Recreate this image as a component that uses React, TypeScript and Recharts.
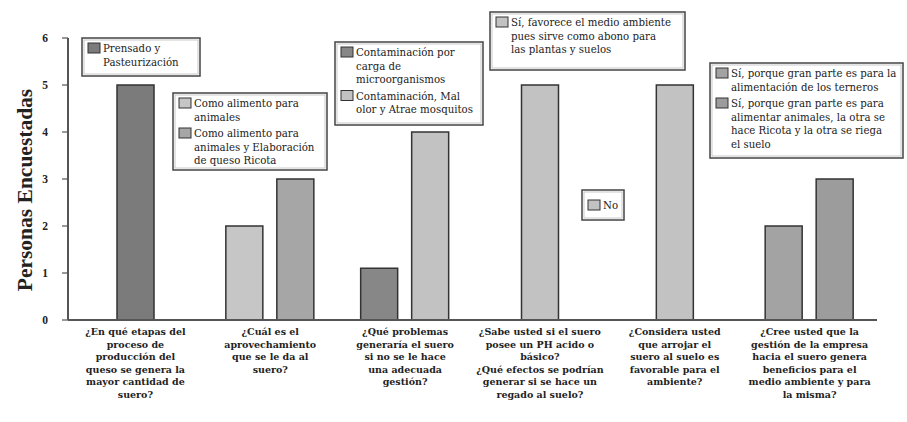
import React from "react";
import { BarChart, Bar, XAxis, YAxis, Cell } from "recharts";

// Survey questions (x-axis categories), one entry per line of the label
const questions: string[][] = [
  ["¿En qué etapas del", "proceso de", "producción del", "queso se genera la", "mayor cantidad de", "suero?"],
  ["¿Cuál es el", "aprovechamiento", "que se le da al", "suero?"],
  ["¿Qué problemas", "generaría el suero", "si no se le hace", "una adecuada", "gestión?"],
  ["¿Sabe usted si el suero", "posee un PH acido o", "básico?", "¿Qué efectos se podrían", "generar si se hace un", "regado al suelo?"],
  ["¿Considera usted", "que arrojar el", "suero al suelo es", "favorable para el", "ambiente?"],
  ["¿Cree usted que la", "gestión de la empresa", "hacia el suero genera", "beneficios para el", "medio ambiente y para", "la misma?"],
];
const categoryIds = ["P1", "P2", "P3", "P4", "P5", "P6"];

// Respondents per answer: questions with one answer use `singleValues`,
// questions with two answers use `firstValues` / `secondValues`
const singleValues: (number | null)[] = [5, null, null, 5, 5, null];
const firstValues: (number | null)[] = [null, 2, 1.1, null, null, 2];
const secondValues: (number | null)[] = [null, 3, 4, null, null, 3];

const yTicks = [0, 1, 2, 3, 4, 5, 6];

// Answer texts per question, split into legend lines
const answerLines: string[][][] = [
  [["Prensado y", "Pasteurización"]],
  [
    ["Como alimento para", "animales"],
    ["Como alimento para", "animales y Elaboración", "de queso Ricota"],
  ],
  [
    ["Contaminación por", "carga de", "microorganismos"],
    ["Contaminación, Mal", "olor y Atrae mosquitos"],
  ],
  [["Sí, favorece el medio ambiente", "pues sirve como abono para", "las plantas y suelos"]],
  [["No"]],
  [
    ["Sí, porque gran parte es para la", "alimentación de los terneros"],
    ["Sí, porque gran parte es para", "alimentar animales, la otra se", "hace Ricota y la otra se riega", "el suelo"],
  ],
];

// Fill for each answer, same order as answerLines
const answerColors: string[][] = [
  ["#7b7b7b"],
  ["#c6c6c6", "#a6a6a6"],
  ["#878787", "#c2c2c2"],
  ["#c2c2c2"],
  ["#c2c2c2"],
  ["#a3a3a3", "#9c9c9c"],
];

// Legend box placement inside the plot
const legendBoxes = [
  { x: 82, y: 38, w: 118, h: 38 },
  { x: 173, y: 93, w: 154, h: 77 },
  { x: 335, y: 42, w: 148, h: 83 },
  { x: 490, y: 12, w: 195, h: 58 },
  { x: 582, y: 190, w: 42, h: 30 },
  { x: 710, y: 63, w: 193, h: 95 },
];

const SERIF = "'Liberation Serif', 'DejaVu Serif', serif";
const WIDE_SERIF = "'DejaVu Serif', serif";
const W = 907;
const H = 422;

const rows = categoryIds.map((id, i) => ({
  id,
  single: singleValues[i],
  first: firstValues[i],
  second: secondValues[i],
}));

const QuestionTick = (props: any) => {
  const { x, y, index } = props;
  const lines = questions[index] || [];
  return (
    <text
      x={x}
      y={y}
      textAnchor="middle"
      style={{ fontFamily: WIDE_SERIF }}
      fontSize={9.5}
      fontWeight="bold"
      fill="#222"
    >
      {lines.map((l, k) => (
        <tspan key={k} x={x} y={y + 15 + k * 12.6}>
          {l}
        </tspan>
      ))}
    </text>
  );
};

const LINE_H = 13.5;

const AnswerLegend = ({ qi }: { qi: number }) => {
  const box = legendBoxes[qi];
  const items = answerLines[qi];
  const single = items.length === 1 && items[0].length === 1;
  let base = single ? box.y + box.h / 2 + 4 : box.y + 14;
  const out: React.ReactNode[] = [];
  items.forEach((lines, ai) => {
    out.push(
      <rect
        key={`s${ai}`}
        x={box.x + 6}
        y={base - 9}
        width={12}
        height={10}
        fill={answerColors[qi][ai]}
        stroke="#333"
        strokeWidth={1}
      />
    );
    out.push(
      <text key={`t${ai}`} style={{ fontFamily: WIDE_SERIF }} fontSize={10.2} fill="#222">
        {lines.map((l, k) => (
          <tspan key={k} x={box.x + 21} y={base + k * LINE_H}>
            {l}
          </tspan>
        ))}
      </text>
    );
    base += lines.length * LINE_H + 3;
  });
  return (
    <g>
      <rect x={box.x} y={box.y} width={box.w} height={box.h} fill="#fff" stroke="#444" strokeWidth={1.5} />
      <rect x={box.x + 2} y={box.y + 2} width={box.w - 4} height={box.h - 4} fill="none" stroke="#bbb" strokeWidth={0.8} />
      {out}
    </g>
  );
};

export default function App() {
  return (
    <div style={{ position: "absolute", left: 0, top: 0, width: W, height: H, background: "#fff" }}>
      <BarChart
        width={W}
        height={H}
        data={rows}
        margin={{ top: 38, right: 30, bottom: 0, left: 0 }}
        barSize={37}
        barGap={14}
      >
        <XAxis
          xAxisId="pair"
          dataKey="id"
          height={102}
          interval={0}
          tickLine={false}
          tickSize={0}
          tickMargin={0}
          axisLine={{ stroke: "#555", strokeWidth: 2 }}
          tick={<QuestionTick />}
        />
        <XAxis xAxisId="single" dataKey="id" hide />
        <YAxis
          domain={[0, 6]}
          ticks={yTicks}
          width={68}
          tickSize={6}
          tickMargin={14}
          axisLine={{ stroke: "#555", strokeWidth: 2 }}
          tickLine={{ stroke: "#555", strokeWidth: 1.2 }}
          tick={{ fontSize: 11.5, fill: "#222", fontFamily: SERIF, fontWeight: "bold" }}
        />
        <Bar xAxisId="single" dataKey="single" stroke="#333" strokeWidth={1.5} isAnimationActive={false}>
          {rows.map((_, i) => (
            <Cell key={i} fill={answerColors[i][0]} />
          ))}
        </Bar>
        <Bar xAxisId="pair" dataKey="first" stroke="#333" strokeWidth={1.5} isAnimationActive={false}>
          {rows.map((_, i) => (
            <Cell key={i} fill={answerColors[i][0]} />
          ))}
        </Bar>
        <Bar xAxisId="pair" dataKey="second" stroke="#333" strokeWidth={1.5} isAnimationActive={false}>
          {rows.map((_, i) => (
            <Cell key={i} fill={answerColors[i][1] || answerColors[i][0]} />
          ))}
        </Bar>
      </BarChart>
      <svg
        width={W}
        height={H}
        style={{ position: "absolute", left: 0, top: 0, pointerEvents: "none" }}
      >
        <text
          x={32}
          y={190}
          transform="rotate(-90, 32, 190)"
          textAnchor="middle"
          style={{ fontFamily: SERIF }}
          fontSize={21.5}
          fontWeight="bold"
          fill="#222"
        >
          Personas Encuestadas
        </text>
        {answerLines.map((_, qi) => (
          <AnswerLegend key={qi} qi={qi} />
        ))}
      </svg>
    </div>
  );
}
